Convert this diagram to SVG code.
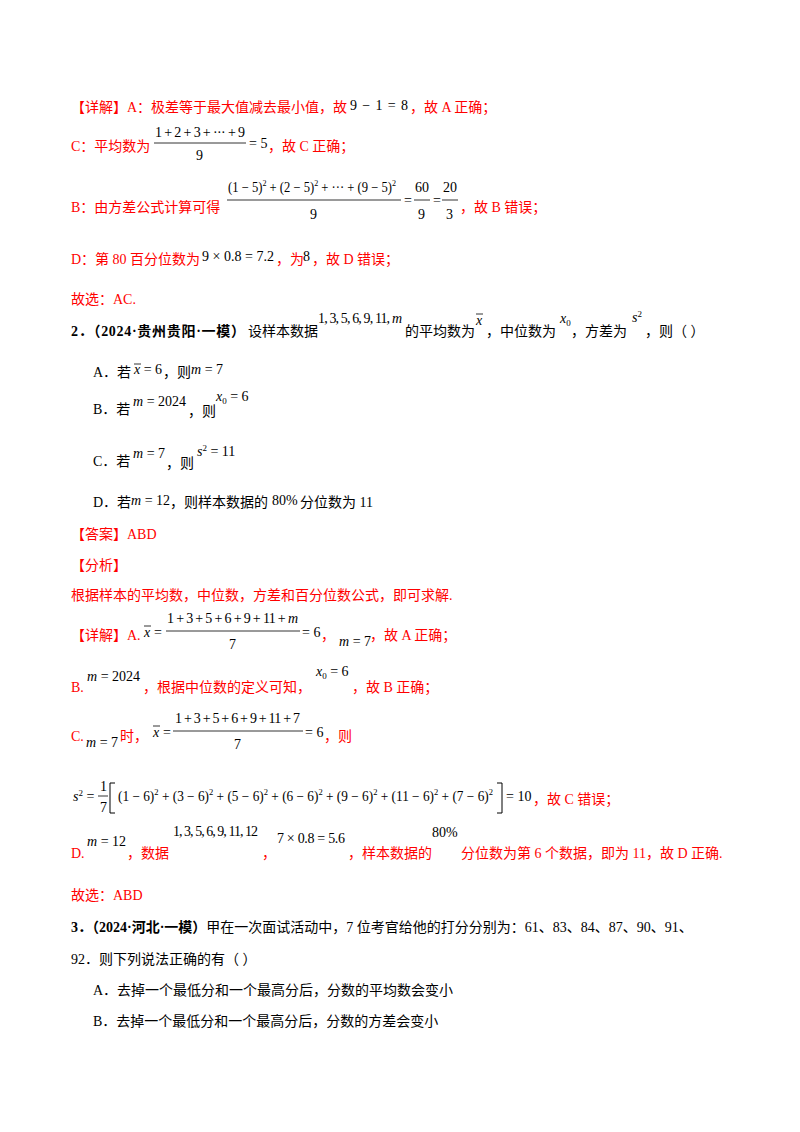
<svg xmlns="http://www.w3.org/2000/svg" width="800" height="1132" viewBox="0 0 800 1132">
<style>
text{font-family:"Liberation Serif","Noto Sans CJK SC",serif;font-size:14px;fill:#000}
.r{fill:#ff0000}
.b{font-weight:bold}
.m{font-family:"Liberation Serif",serif;font-size:14px}
.i{font-style:italic}
.s{font-size:9px}
line{stroke:#000;stroke-width:0.8}
.br{fill:none;stroke:#000;stroke-width:1}
</style>
<rect width="800" height="1132" fill="#fff"/>
<g id="q1">
<text x="71" y="112" class="r">【详解】A：极差等于最大值减去最小值，故</text>
<text x="350" y="110" class="m" textLength="58">9 − 1 = 8</text>
<text x="410" y="112" class="r">，故 A 正确；</text>

<text x="71" y="151" class="r">C：平均数为</text>
<text x="155" y="137" class="m" textLength="90">1 + 2 + 3 + ··· + 9</text>
<line x1="154" y1="143" x2="246" y2="143"/>
<text x="196" y="160" class="m">9</text>
<text x="249" y="148" class="m">= 5</text>
<text x="268" y="151" class="r">，故 C 正确；</text>

<text x="71" y="212" class="r">B：由方差公式计算可得</text>
<text x="228" y="192" class="m" textLength="168" lengthAdjust="spacingAndGlyphs">(1 − 5)<tspan class="s" dy="-6">2</tspan><tspan dy="6"> + (2 − 5)</tspan><tspan class="s" dy="-6">2</tspan><tspan dy="6"> + ··· + (9 − 5)</tspan><tspan class="s" dy="-6">2</tspan></text>
<line x1="227" y1="200" x2="401" y2="200"/>
<text x="310" y="219" class="m">9</text>
<text x="404" y="205" class="m">=</text>
<text x="415" y="192" class="m">60</text>
<line x1="414" y1="200" x2="430" y2="200"/>
<text x="418" y="219" class="m">9</text>
<text x="433" y="205" class="m">=</text>
<text x="443" y="192" class="m">20</text>
<line x1="442" y1="200" x2="458" y2="200"/>
<text x="446" y="219" class="m">3</text>
<text x="460" y="212" class="r">，故 B 错误；</text>

<text x="71" y="264" class="r">D：第 80 百分位数为</text>
<text x="202" y="261" class="m" textLength="72">9 × 0.8 = 7.2</text>
<text x="276" y="264" class="r">，为</text>
<text x="303" y="261" class="m">8</text>
<text x="312" y="264" class="r">，故 D 错误；</text>

<text x="71" y="304" class="r">故选：AC.</text>
</g>

<g id="q2">
<text x="71" y="336" class="b" textLength="174">2．（2024·贵州贵阳·一模）</text><text x="248" y="336">设样本数据</text>
<text x="318" y="323" class="m" textLength="84">1, 3, 5, 6, 9, 11, <tspan class="i">m</tspan></text>
<text x="405" y="336">的平均数为</text>
<text x="476" y="325" class="m i">x</text><line x1="476" y1="314" x2="483" y2="314"/>
<text x="486" y="336">，中位数为</text>
<text x="560" y="323" class="m i">x<tspan class="s" dy="3" font-style="normal">0</tspan></text>
<text x="571" y="336">，方差为</text>
<text x="632" y="322" class="m i">s<tspan class="s" dy="-5" font-style="normal">2</tspan></text>
<text x="645" y="336">，则（    ）</text>

<text x="93" y="377">A．若</text>
<text x="134" y="374" class="m"><tspan class="i">x</tspan> = 6</text><line x1="134" y1="364" x2="141" y2="364"/>
<text x="163" y="377">，则</text>
<text x="191" y="374" class="m"><tspan class="i">m</tspan> = 7</text>

<text x="93" y="414">B．若</text>
<text x="133" y="406" class="m"><tspan class="i">m</tspan> = 2024</text>
<text x="188" y="416">，则</text>
<text x="216" y="401" class="m"><tspan class="i">x</tspan><tspan class="s" dy="3">0</tspan><tspan dy="-3"> = 6</tspan></text>

<text x="93" y="466">C．若</text>
<text x="133" y="458" class="m"><tspan class="i">m</tspan> = 7</text>
<text x="166" y="468">，则</text>
<text x="197" y="456" class="m"><tspan class="i">s</tspan><tspan class="s" dy="-5">2</tspan><tspan dy="5"> = 11</tspan></text>

<text x="93" y="507">D．若</text>
<text x="131" y="505" class="m"><tspan class="i">m</tspan> = 12</text>
<text x="170" y="507">，则样本数据的</text>
<text x="272" y="505" class="m">80%</text>
<text x="300" y="507">分位数为 11</text>

<text x="71" y="539" class="r">【答案】ABD</text>
<text x="71" y="570" class="r">【分析】</text>
<text x="71" y="600" class="r">根据样本的平均数，中位数，方差和百分位数公式，即可求解.</text>

<text x="71" y="640" class="r">【详解】A.</text>
<text x="144" y="637" class="m i">x</text><line x1="144" y1="626" x2="151" y2="626"/>
<text x="154" y="637" class="m">=</text>
<text x="167" y="623" class="m" textLength="131">1 + 3 + 5 + 6 + 9 + 11 + <tspan class="i">m</tspan></text>
<line x1="166" y1="631" x2="300" y2="631"/>
<text x="229" y="649" class="m">7</text>
<text x="302" y="637" class="m">= 6</text>
<text x="321" y="640" class="r">，</text>
<text x="339" y="646" class="m"><tspan class="i">m</tspan> = 7</text>
<text x="370" y="640" class="r">，故 A 正确；</text>

<text x="71" y="692" class="r">B.</text>
<text x="87" y="681" class="m"><tspan class="i">m</tspan> = 2024</text>
<text x="143" y="692" class="r">，根据中位数的定义可知，</text>
<text x="316" y="676" class="m"><tspan class="i">x</tspan><tspan class="s" dy="3">0</tspan><tspan dy="-3"> = 6</tspan></text>
<text x="352" y="692" class="r">，故 B 正确；</text>

<text x="71" y="741" class="r">C.</text>
<text x="86" y="747" class="m"><tspan class="i">m</tspan> = 7</text>
<text x="120" y="741" class="r">时，</text>
<text x="153" y="737" class="m i">x</text><line x1="153" y1="726" x2="160" y2="726"/>
<text x="163" y="737" class="m">=</text>
<text x="175" y="723" class="m" textLength="125">1 + 3 + 5 + 6 + 9 + 11 + 7</text>
<line x1="173" y1="731" x2="303" y2="731"/>
<text x="234" y="749" class="m">7</text>
<text x="305" y="737" class="m">= 6</text>
<text x="324" y="741" class="r">，则</text>

<text x="73" y="801" class="m"><tspan class="i">s</tspan><tspan class="s" dy="-5">2</tspan><tspan dy="5"> =</tspan></text>
<text x="100" y="791" class="m">1</text>
<line x1="98" y1="796" x2="108" y2="796"/>
<text x="100" y="812" class="m">7</text>
<path class="br" d="M115 783 H110 V813 H115"/>
<text x="118" y="801" class="m" textLength="375" lengthAdjust="spacingAndGlyphs">(1 − 6)<tspan class="s" dy="-6">2</tspan><tspan dy="6"> + (3 − 6)</tspan><tspan class="s" dy="-6">2</tspan><tspan dy="6"> + (5 − 6)</tspan><tspan class="s" dy="-6">2</tspan><tspan dy="6"> + (6 − 6)</tspan><tspan class="s" dy="-6">2</tspan><tspan dy="6"> + (9 − 6)</tspan><tspan class="s" dy="-6">2</tspan><tspan dy="6"> + (11 − 6)</tspan><tspan class="s" dy="-6">2</tspan><tspan dy="6"> + (7 − 6)</tspan><tspan class="s" dy="-6">2</tspan></text>
<path class="br" d="M497 783 H502 V813 H497"/>
<text x="506" y="801" class="m">= 10</text>
<text x="533" y="804" class="r">，故 C 错误；</text>

<text x="71" y="858" class="r">D.</text>
<text x="87" y="846" class="m"><tspan class="i">m</tspan> = 12</text>
<text x="127" y="858" class="r">，数据</text>
<text x="173" y="836" class="m" textLength="85">1, 3, 5, 6, 9, 11, 12</text>
<text x="262" y="858" class="r">，</text>
<text x="277" y="843" class="m" textLength="68">7 × 0.8 = 5.6</text>
<text x="348" y="858" class="r">，样本数据的</text>
<text x="432" y="837" class="m">80%</text>
<text x="461" y="858" class="r">分位数为第 6 个数据，即为 11，故 D 正确.</text>

<text x="71" y="900" class="r">故选：ABD</text>
</g>

<g id="q3">
<text x="71" y="932"><tspan class="b">3．（2024·河北·一模）</tspan>甲在一次面试活动中，7 位考官给他的打分分别为：61、83、84、87、90、91、</text>
<text x="71" y="964">92．则下列说法正确的有（    ）</text>
<text x="93" y="995">A．去掉一个最低分和一个最高分后，分数的平均数会变小</text>
<text x="93" y="1026">B．去掉一个最低分和一个最高分后，分数的方差会变小</text>
</g>
</svg>
